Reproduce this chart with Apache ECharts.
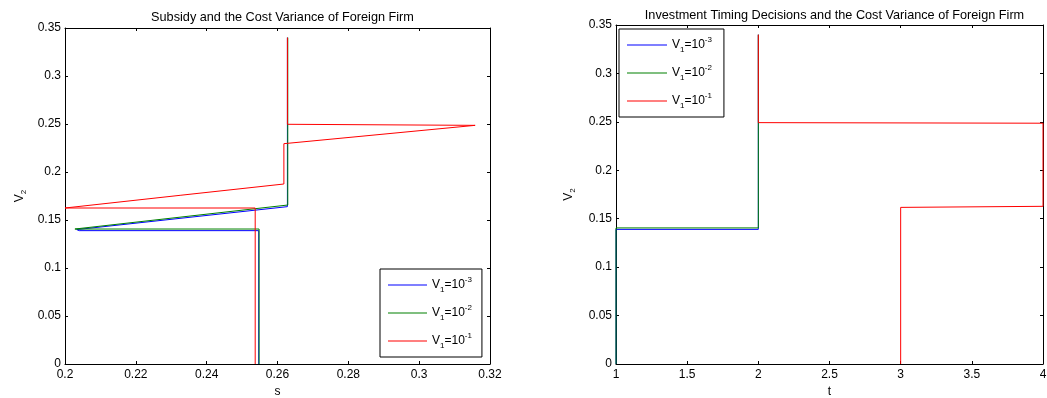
<!DOCTYPE html>
<html><head><meta charset="utf-8">
<script src="https://cdn.jsdelivr.net/npm/echarts@6/dist/echarts.min.js"></script>
<style>html,body{margin:0;padding:0;background:#fff}#c{width:1047px;height:398px}</style>
</head><body><div id="c"></div>
<script>
// ---------- data ----------
const seriesNames = ['V1=10^-3', 'V1=10^-2', 'V1=10^-1'];
const seriesExponents = ['-3', '-2', '-1'];
const seriesColors = ['#0000ff', '#008000', '#ff0000'];

const leftTitle = 'Subsidy and the Cost Variance of Foreign Firm';
const rightTitle = 'Investment Timing Decisions and the Cost Variance of Foreign Firm';

// Left chart: subsidy s (x) against V2 (y)
const leftBlueS  = [0.2547, 0.2547, 0.2040, 0.2033, 0.2628, 0.2628];
const leftBlueV  = [0,      0.1389, 0.1389, 0.1400, 0.1639, 0.34];
const leftGreenS = [0.2548, 0.2548, 0.2028, 0.2028, 0.2629, 0.2629];
const leftGreenV = [0,      0.1406, 0.1406, 0.1414, 0.1656, 0.34];
const leftRedS   = [0.2537, 0.2537, 0.2000, 0.2000, 0.2325, 0.2618, 0.2618, 0.3158, 0.2628, 0.2628];
const leftRedV   = [0,      0.1625, 0.1625, 0.1632, 0.1757, 0.1875, 0.2295, 0.2486, 0.2497, 0.34];

// Right chart: investment time t (x) against V2 (y)
const rightBlueT  = [1, 1,      2,      2];
const rightBlueV  = [0, 0.1390, 0.1390, 0.34];
const rightGreenT = [1, 1,      2,      2];
const rightGreenV = [0, 0.1405, 0.1405, 0.34];
const rightRedT   = [3, 3,      4,      4,      2,      2];
const rightRedV   = [0, 0.1617, 0.1628, 0.2486, 0.2492, 0.34];

// ---------- helpers ----------
const zip = (xs, ys) => xs.map((x, i) => [x, ys[i]]);
const FONT = "'Liberation Sans', Arial, Helvetica, sans-serif";
const legendText = name => {
  const i = seriesNames.indexOf(name);
  return '{v|V}{sub|1}{v|=10}{sup|' + seriesExponents[i] + '}';
};
const richLegend = {
  v:   {fontSize: 12, lineHeight: 18, fontFamily: FONT, color: '#000', verticalAlign: 'middle'},
  sub: {fontSize: 8,  lineHeight: 8,  fontFamily: FONT, color: '#000', verticalAlign: 'bottom'},
  sup: {fontSize: 8,  lineHeight: 8,  fontFamily: FONT, color: '#000', verticalAlign: 'top'}
};
const richName = {
  v:   {fontSize: 12, lineHeight: 16, fontFamily: FONT, color: '#000', verticalAlign: 'middle'},
  sub: {fontSize: 8,  lineHeight: 8,  fontFamily: FONT, color: '#000', verticalAlign: 'bottom'}
};

function xAxes(gridIndex, min, max, interval, name) {
  const common = {
    type: 'value', gridIndex, min, max, interval,
    axisLine: {show: true, onZero: false, lineStyle: {color: '#000', width: 1}},
    axisTick: {show: true, inside: true, length: 3, lineStyle: {color: '#000'}},
    splitLine: {show: false}
  };
  return [
    Object.assign({}, common, {
      position: 'bottom', name, nameLocation: 'middle', nameGap: 21,
      nameTextStyle: {fontSize: 12, fontFamily: FONT, color: '#000'},
      axisLabel: {show: true, margin: 5, fontSize: 12, fontFamily: FONT, color: '#000',
                  showMinLabel: true, showMaxLabel: true, hideOverlap: false}
    }),
    Object.assign({}, common, {position: 'top', axisLabel: {show: false}})
  ];
}
function yAxes(gridIndex, nameGap) {
  const common = {
    type: 'value', gridIndex, min: 0, max: 0.35, interval: 0.05,
    axisLine: {show: true, onZero: false, lineStyle: {color: '#000', width: 1}},
    axisTick: {show: true, inside: true, length: 3, lineStyle: {color: '#000'}},
    splitLine: {show: false}
  };
  return [
    Object.assign({}, common, {
      position: 'left', name: '{v|V}{sub|2}', nameLocation: 'middle', nameGap, nameRotate: 90,
      nameTextStyle: {fontFamily: FONT, color: '#000', rich: richName},
      axisLabel: {show: true, margin: 4, fontSize: 12, fontFamily: FONT, color: '#000',
                  showMinLabel: true, showMaxLabel: true, hideOverlap: false}
    }),
    Object.assign({}, common, {position: 'right', axisLabel: {show: false}})
  ];
}
function lineSeries(name, color, xi, yi, data) {
  return {
    type: 'line', name, xAxisIndex: xi, yAxisIndex: yi, data,
    symbol: 'none', showSymbol: false, clip: false, animation: false,
    lineStyle: {color, width: 1}, itemStyle: {color},
    emphasis: {disabled: true}
  };
}

const leftData  = [zip(leftBlueS, leftBlueV), zip(leftGreenS, leftGreenV), zip(leftRedS, leftRedV)];
const rightData = [zip(rightBlueT, rightBlueV), zip(rightGreenT, rightGreenV), zip(rightRedT, rightRedV)];

const series = [];
seriesNames.forEach((n, i) => series.push(lineSeries(n, seriesColors[i], 0, 0, leftData[i])));
seriesNames.forEach((n, i) => series.push(lineSeries(n, seriesColors[i], 2, 2, rightData[i])));

const chart = echarts.init(document.getElementById('c'), null, {renderer: 'canvas'});
chart.setOption({
  animation: false,
  backgroundColor: '#fff',
  title: [
    {text: leftTitle, left: 277.5, top: 6, textAlign: 'center',
     textStyle: {fontSize: 12.7, fontWeight: 'normal', fontFamily: FONT, color: '#000'}},
    {text: rightTitle, left: 829.5, top: 4, textAlign: 'center',
     textStyle: {fontSize: 12.7, fontWeight: 'normal', fontFamily: FONT, color: '#000'}}
  ],
  grid: [
    {left: 65, top: 28, width: 425, height: 336, containLabel: false, outerBoundsMode: 'none'},
    {left: 616, top: 25, width: 427, height: 339, containLabel: false, outerBoundsMode: 'none'}
  ],
  xAxis: [].concat(xAxes(0, 0.2, 0.32, 0.02, 's'), xAxes(1, 1, 4, 0.5, 't')),
  yAxis: [].concat(yAxes(0, 37), yAxes(1, 39)).map((a, i) => Object.assign(a, {gridIndex: i < 2 ? 0 : 1})),
  legend: [
    {data: seriesNames, orient: 'vertical', left: 380, top: 269, padding: [7, 10, 7, 8],
     itemGap: 10, itemWidth: 39, itemHeight: 1, icon: 'rect',
     borderColor: '#000', borderWidth: 1, backgroundColor: '#fff',
     formatter: legendText, textStyle: {rich: richLegend}, selectedMode: false},
    {data: seriesNames, orient: 'vertical', left: 619, top: 29, padding: [7, 12, 7, 8],
     itemGap: 10, itemWidth: 40, itemHeight: 1, icon: 'rect',
     borderColor: '#000', borderWidth: 1, backgroundColor: '#fff',
     formatter: legendText, textStyle: {rich: richLegend}, selectedMode: false}
  ],
  series
});
</script>
</body></html>
